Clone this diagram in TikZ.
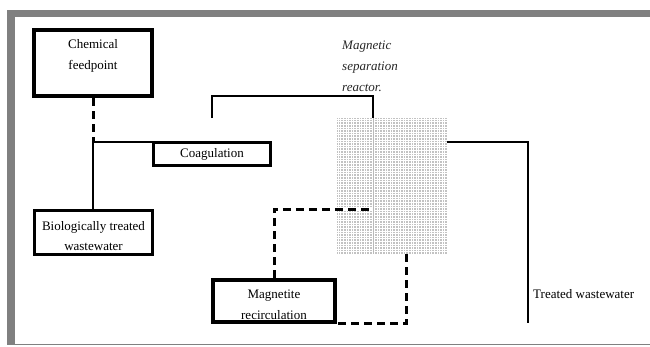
\documentclass[tikz,border=0pt]{standalone}
\usepackage{fontspec}
\setmainfont{Liberation Serif}
\begin{document}
\begin{tikzpicture}[x=1pt,y=-1pt,
  txt/.style={font=\fontsize{13}{20.5}\selectfont, align=center, inner sep=0pt},
  box/.style={draw, line width=3.5pt, inner sep=0pt, fill=white},
  flow/.style={line width=2.9pt},
  dflow/.style={line width=3pt, dash pattern=on 8pt off 5pt}
]
\useasboundingbox (0,0) rectangle (650,346);

% page frame
\fill[gray] (7,10) rectangle (650,17);
\fill[gray] (7,10) rectangle (15,344);
\draw[gray, line width=1pt] (7,344) -- (650,344);

% boxes
\node[box, line width=4pt, minimum width=118pt, minimum height=66pt] (chem) at (93,63) {};
\node[txt] (chemt) at (93,56) {Chemical\\feedpoint};

\node[box, minimum width=117pt, minimum height=23pt] (coag) at (212,154) {};
\node[txt] (coagt) at (212,154.5) {Coagulation};

\node[box, minimum width=118pt, minimum height=44pt] (bio) at (93.5,232.5) {};
\node[txt] (biot) at (93.5,236) {Biologically treated\\wastewater};

\node[box, line width=3.8pt, minimum width=122pt, minimum height=42pt] (mag) at (274,301) {};
\node[txt] (magt) at (274,305) {Magnetite\\recirculation};

% magnetic separation reactor (screened block)
\node[inner sep=0pt, minimum width=110pt, minimum height=136pt, fill=gray!48] (mr) at (392,186) {};
\foreach \x in {338.2,340.8,...,447} \draw[white, line width=0.75pt] (\x,118) -- (\x,254);
\foreach \y in {119.2,121.8,...,254} \draw[white, line width=0.7pt] (337,\y) -- (447,\y);
\draw[gray!55, line width=0.6pt] (373,118) -- (373,254);

\node[txt, align=left, anchor=west, font=\fontsize{13}{21}\itshape\selectfont, text=black!85] (mrt) at (342,66) {Magnetic\\separation\\reactor.};

\node[txt, anchor=west] (tw) at (533,294) {Treated wastewater};

% junctions
\coordinate (j1) at (93,142);
\coordinate (b1) at (212,118);
\coordinate (r1) at (373,118);
\coordinate (r2) at (447,142);
\coordinate (r3) at (373,209);
\coordinate (r4) at (406,254);
\coordinate (out) at (528,323);

% connectors
\draw[dflow] (chem.south) -- (j1);
\draw[flow] (j1) -- (coag.west |- j1);
\draw[flow] (j1) -- (j1 |- bio.north);
\draw[flow] (b1) -- ++(0,-22) -| (r1);
\draw[flow] (r2) -| (out);

\draw[white, line width=3pt] (mr.west |- r3) -- (r3);
\draw[dflow] (mag.north) |- (r3);
\draw[dflow] (r4) |- (mag.south east);
\end{tikzpicture}
\end{document}
